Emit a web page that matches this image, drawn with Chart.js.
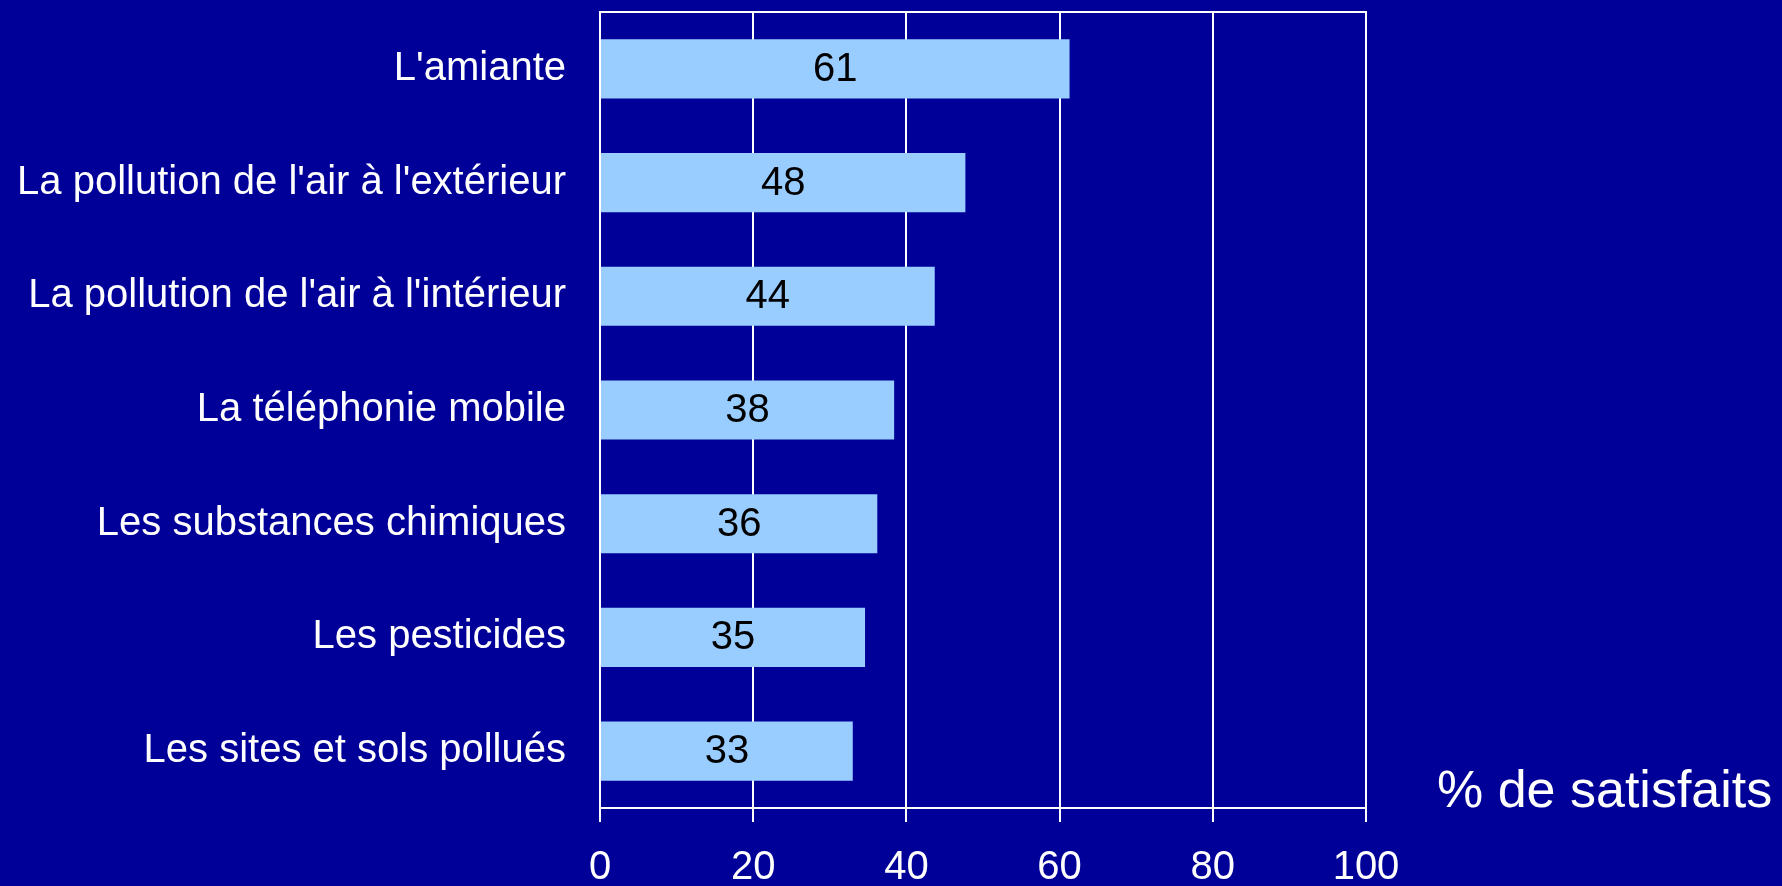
<!DOCTYPE html>
<html>
<head>
<meta charset="utf-8">
<script src="https://cdn.jsdelivr.net/npm/chart.js@4/dist/chart.umd.min.js"></script>
<style>
  html, body { margin: 0; padding: 0; background: #000099; }
  #wrap { width: 1782px; height: 886px; position: relative; }
</style>
</head>
<body>
<div id="wrap"><canvas id="c" width="1782" height="886"></canvas></div>
<script>
const categories = [
  "L'amiante",
  "La pollution de l'air à l'extérieur",
  "La pollution de l'air à l'intérieur",
  "La téléphonie mobile",
  "Les substances chimiques",
  "Les pesticides",
  "Les sites et sols pollués"
];
const satisfaits = [61.3, 47.7, 43.7, 38.4, 36.2, 34.6, 33.0];
const xTicks = [0, 20, 40, 60, 80, 100];
const axisTitle = "% de satisfaits";

const FONT = "'Liberation Sans', Arial, sans-serif";

const deco = {
  id: 'deco',
  beforeDraw(chart) {
    const ctx = chart.ctx;
    ctx.save();
    ctx.fillStyle = '#000099';
    ctx.fillRect(0, 0, chart.width, chart.height);
    ctx.restore();
  },
  afterDatasetsDraw(chart) {
    const ctx = chart.ctx;
    const area = chart.chartArea;
    ctx.save();
    // top border
    ctx.strokeStyle = '#ffffff';
    ctx.lineWidth = 2;
    ctx.beginPath();
    ctx.moveTo(area.left - 1, area.top);
    ctx.lineTo(area.right + 1, area.top);
    ctx.stroke();
    // value labels centred in bars
    ctx.fillStyle = '#000000';
    ctx.font = '40px ' + FONT;
    ctx.textAlign = 'center';
    ctx.textBaseline = 'middle';
    const meta = chart.getDatasetMeta(0);
    meta.data.forEach((el, i) => {
      const cx = (el.x + el.base) / 2;
      ctx.fillText(String(Math.round(satisfaits[i])), cx, el.y + 1);
    });
    // axis title
    ctx.fillStyle = '#ffffff';
    ctx.font = '52px ' + FONT;
    ctx.textAlign = 'left';
    ctx.textBaseline = 'middle';
    ctx.fillText(axisTitle, area.right + 71, area.bottom - 15);
    ctx.restore();
  }
};

new Chart(document.getElementById('c'), {
  type: 'bar',
  data: {
    labels: categories,
    datasets: [{
      data: satisfaits,
      backgroundColor: '#99CCFF',
      borderWidth: 0,
      categoryPercentage: 1.0,
      barPercentage: 0.52
    }]
  },
  plugins: [deco],
  options: {
    indexAxis: 'y',
    responsive: false,
    animation: false,
    events: [],
    layout: { padding: { left: 15, right: 416, top: 12, bottom: 0 } },
    plugins: { legend: { display: false }, tooltip: { enabled: false } },
    scales: {
      x: {
        min: 0, max: 100,
        afterBuildTicks(scale) { scale.ticks = xTicks.map(v => ({ value: v })); },
        afterFit(scale) {
          scale.height = 78;
          scale.paddingLeft = 0; scale.paddingRight = 0;
          scale.paddingTop = 0; scale.paddingBottom = 0;
        },
        grid: { color: '#ffffff', lineWidth: 2, tickLength: 14, tickColor: '#ffffff', drawTicks: true },
        border: { color: '#ffffff', width: 2 },
        ticks: { color: '#ffffff', font: { family: FONT, size: 40 }, padding: 22, maxRotation: 0 }
      },
      y: {
        afterFit(scale) {
          scale.width = 585;
          scale.paddingTop = 0; scale.paddingBottom = 0;
          scale.paddingLeft = 0; scale.paddingRight = 0;
        },
        grid: { display: false, drawTicks: false },
        border: { color: '#ffffff', width: 2 },
        ticks: { color: '#ffffff', font: { family: FONT, size: 40 }, padding: 34 }
      }
    }
  }
});
</script>
</body>
</html>
